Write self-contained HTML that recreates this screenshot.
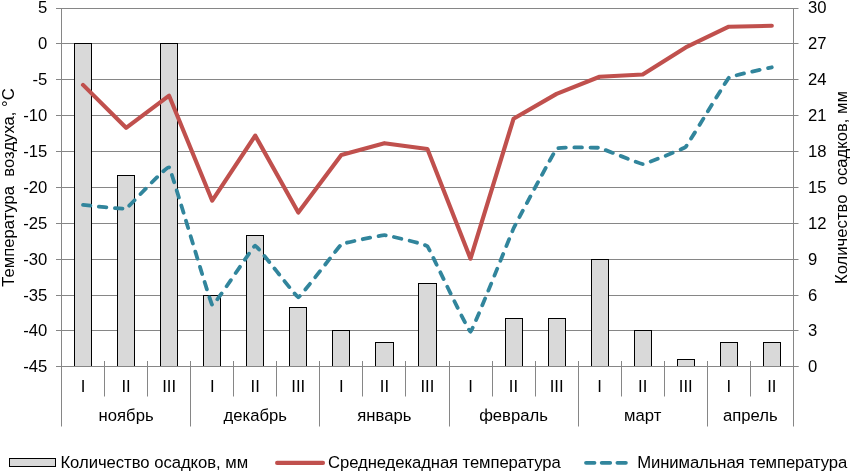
<!DOCTYPE html>
<html><head><meta charset="utf-8"><title>chart</title>
<style>
html,body{margin:0;padding:0;background:#fff;}
body{width:850px;height:473px;overflow:hidden;}
svg{display:block;will-change:transform;}
text{font-family:"Liberation Sans",sans-serif;font-size:16.67px;fill:#000;}
</style></head><body>
<svg width="850" height="473" viewBox="0 0 850 473">
<rect width="850" height="473" fill="#fff"/>

<g stroke="#868686" stroke-width="1" fill="none">
<line x1="56" y1="366.5" x2="798.5" y2="366.5"/>
<line x1="56" y1="330.5" x2="798.5" y2="330.5"/>
<line x1="56" y1="295.5" x2="798.5" y2="295.5"/>
<line x1="56" y1="259.5" x2="798.5" y2="259.5"/>
<line x1="56" y1="223.5" x2="798.5" y2="223.5"/>
<line x1="56" y1="187.5" x2="798.5" y2="187.5"/>
<line x1="56" y1="151.5" x2="798.5" y2="151.5"/>
<line x1="56" y1="115.5" x2="798.5" y2="115.5"/>
<line x1="56" y1="79.5" x2="798.5" y2="79.5"/>
<line x1="56" y1="43.5" x2="798.5" y2="43.5"/>
<line x1="56" y1="8.5" x2="798.5" y2="8.5"/>
<line x1="61.5" y1="8.0" x2="61.5" y2="426.5"/>
<line x1="793.5" y1="8.0" x2="793.5" y2="426.5"/>
<line x1="104.5" y1="361" x2="104.5" y2="396.5"/>
<line x1="147.5" y1="361" x2="147.5" y2="396.5"/>
<line x1="190.5" y1="361" x2="190.5" y2="426.5"/>
<line x1="233.5" y1="361" x2="233.5" y2="396.5"/>
<line x1="276.5" y1="361" x2="276.5" y2="396.5"/>
<line x1="319.5" y1="361" x2="319.5" y2="426.5"/>
<line x1="362.5" y1="361" x2="362.5" y2="396.5"/>
<line x1="405.5" y1="361" x2="405.5" y2="396.5"/>
<line x1="449.5" y1="361" x2="449.5" y2="426.5"/>
<line x1="492.5" y1="361" x2="492.5" y2="396.5"/>
<line x1="535.5" y1="361" x2="535.5" y2="396.5"/>
<line x1="578.5" y1="361" x2="578.5" y2="426.5"/>
<line x1="621.5" y1="361" x2="621.5" y2="396.5"/>
<line x1="664.5" y1="361" x2="664.5" y2="396.5"/>
<line x1="707.5" y1="361" x2="707.5" y2="426.5"/>
<line x1="750.5" y1="361" x2="750.5" y2="396.5"/>
</g>
<g fill="#d9d9d9" stroke="#000" stroke-width="1">
<rect x="74.5" y="43.5" width="17" height="323.0"/>
<rect x="117.5" y="175.5" width="17" height="191.0"/>
<rect x="160.5" y="43.5" width="17" height="323.0"/>
<rect x="203.5" y="295.5" width="17" height="71.0"/>
<rect x="246.5" y="235.5" width="17" height="131.0"/>
<rect x="289.5" y="307.5" width="17" height="59.0"/>
<rect x="332.5" y="330.5" width="17" height="36.0"/>
<rect x="375.5" y="342.5" width="18" height="24.0"/>
<rect x="418.5" y="283.5" width="18" height="83.0"/>
<rect x="505.5" y="318.5" width="17" height="48.0"/>
<rect x="548.5" y="318.5" width="17" height="48.0"/>
<rect x="591.5" y="259.5" width="17" height="107.0"/>
<rect x="634.5" y="330.5" width="17" height="36.0"/>
<rect x="677.5" y="359.5" width="17" height="7.0"/>
<rect x="720.5" y="342.5" width="17" height="24.0"/>
<rect x="763.5" y="342.5" width="17" height="24.0"/>
</g>
<line x1="56" y1="366.5" x2="798.5" y2="366.5" stroke="#868686" stroke-width="1"/>
<path d="M83.0,204.9 C84.0,205.0 124.1,209.5 126.1,208.6 C128.1,207.7 167.1,165.0 169.1,167.2 C171.1,169.4 210.2,303.1 212.2,304.9 C214.2,306.7 253.2,245.8 255.2,245.6 C257.2,245.4 296.3,297.3 298.3,297.3 C300.3,297.3 339.3,245.9 341.3,244.4 C343.3,242.9 382.4,235.1 384.4,235.1 C386.4,235.1 425.4,244.0 427.4,246.3 C429.4,248.6 468.5,332.2 470.5,331.8 C472.5,331.4 511.5,232.8 513.5,228.5 C515.5,224.2 554.6,150.6 556.6,148.7 C558.6,146.8 597.6,147.5 599.6,147.9 C601.6,148.3 640.7,164.1 642.7,164.1 C644.7,164.1 683.7,148.9 685.7,146.9 C687.7,144.9 726.8,79.7 728.8,77.8 C730.8,75.9 770.8,67.5 771.8,67.3" fill="none" stroke="#31859c" stroke-width="3.8" stroke-linecap="round" stroke-linejoin="round" stroke-dasharray="7.5 8.455"/>
<path d="M83.0,84.9 L126.1,127.8 L169.1,95.7 L212.2,200.7 L255.2,135.6 L298.3,212.6 L341.3,154.9 L384.4,143.2 L427.4,149.0 L470.5,258.7 L513.5,118.8 L556.6,93.9 L599.6,76.8 L642.7,74.5 L685.7,47.4 L728.8,26.7 L771.8,25.8" fill="none" stroke="#c0504d" stroke-width="4.15" stroke-linecap="round" stroke-linejoin="round"/>
<text x="47.3" y="371.9" text-anchor="end">-45</text>
<text x="47.3" y="335.9" text-anchor="end">-40</text>
<text x="47.3" y="300.9" text-anchor="end">-35</text>
<text x="47.3" y="264.9" text-anchor="end">-30</text>
<text x="47.3" y="228.9" text-anchor="end">-25</text>
<text x="47.3" y="192.9" text-anchor="end">-20</text>
<text x="47.3" y="156.9" text-anchor="end">-15</text>
<text x="47.3" y="120.9" text-anchor="end">-10</text>
<text x="47.3" y="84.9" text-anchor="end">-5</text>
<text x="47.3" y="48.9" text-anchor="end">0</text>
<text x="47.3" y="12.9" text-anchor="end">5</text>
<text x="808" y="371.9">0</text>
<text x="808" y="335.9">3</text>
<text x="808" y="300.9">6</text>
<text x="808" y="264.9">9</text>
<text x="808" y="228.9">12</text>
<text x="808" y="192.9">15</text>
<text x="808" y="156.9">18</text>
<text x="808" y="120.9">21</text>
<text x="808" y="84.9">24</text>
<text x="808" y="48.9">27</text>
<text x="808" y="12.9">30</text>
<text x="83.0" y="391.6" text-anchor="middle">I</text>
<text x="126.1" y="391.6" text-anchor="middle">II</text>
<text x="169.1" y="391.6" text-anchor="middle">III</text>
<text x="212.2" y="391.6" text-anchor="middle">I</text>
<text x="255.2" y="391.6" text-anchor="middle">II</text>
<text x="298.3" y="391.6" text-anchor="middle">III</text>
<text x="341.3" y="391.6" text-anchor="middle">I</text>
<text x="384.4" y="391.6" text-anchor="middle">II</text>
<text x="427.4" y="391.6" text-anchor="middle">III</text>
<text x="470.5" y="391.6" text-anchor="middle">I</text>
<text x="513.5" y="391.6" text-anchor="middle">II</text>
<text x="556.6" y="391.6" text-anchor="middle">III</text>
<text x="599.6" y="391.6" text-anchor="middle">I</text>
<text x="642.7" y="391.6" text-anchor="middle">II</text>
<text x="685.7" y="391.6" text-anchor="middle">III</text>
<text x="728.8" y="391.6" text-anchor="middle">I</text>
<text x="771.8" y="391.6" text-anchor="middle">II</text>
<text x="126.1" y="420.6" text-anchor="middle">ноябрь</text>
<text x="255.2" y="420.6" text-anchor="middle">декабрь</text>
<text x="384.4" y="420.6" text-anchor="middle">январь</text>
<text x="513.5" y="420.6" text-anchor="middle">февраль</text>
<text x="642.7" y="420.6" text-anchor="middle">март</text>
<text x="750.4" y="420.6" text-anchor="middle">апрель</text>
<text transform="translate(14,187.5) rotate(-90)" text-anchor="middle" xml:space="preserve">Температура  воздуха, °С</text>
<text transform="translate(846.5,187.5) rotate(-90)" text-anchor="middle" xml:space="preserve">Количество  осадков, мм</text>
<rect x="9.5" y="458.5" width="46" height="8" fill="#d9d9d9" stroke="#000" stroke-width="1"/>
<text x="60.4" y="467.9" textLength="187.8">Количество осадков, мм</text>
<line x1="277.1" y1="462.9" x2="323" y2="462.9" stroke="#c0504d" stroke-width="4.1" stroke-linecap="round"/>
<text x="328.1" y="467.9" textLength="232.7">Среднедекадная температура</text>
<line x1="586" y1="462.8" x2="626" y2="462.8" stroke="#31859c" stroke-width="3.8" stroke-linecap="round" stroke-dasharray="8.5 7.2"/>
<text x="637.2" y="467.9" textLength="210.1">Минимальная температура</text>
</svg></body></html>
